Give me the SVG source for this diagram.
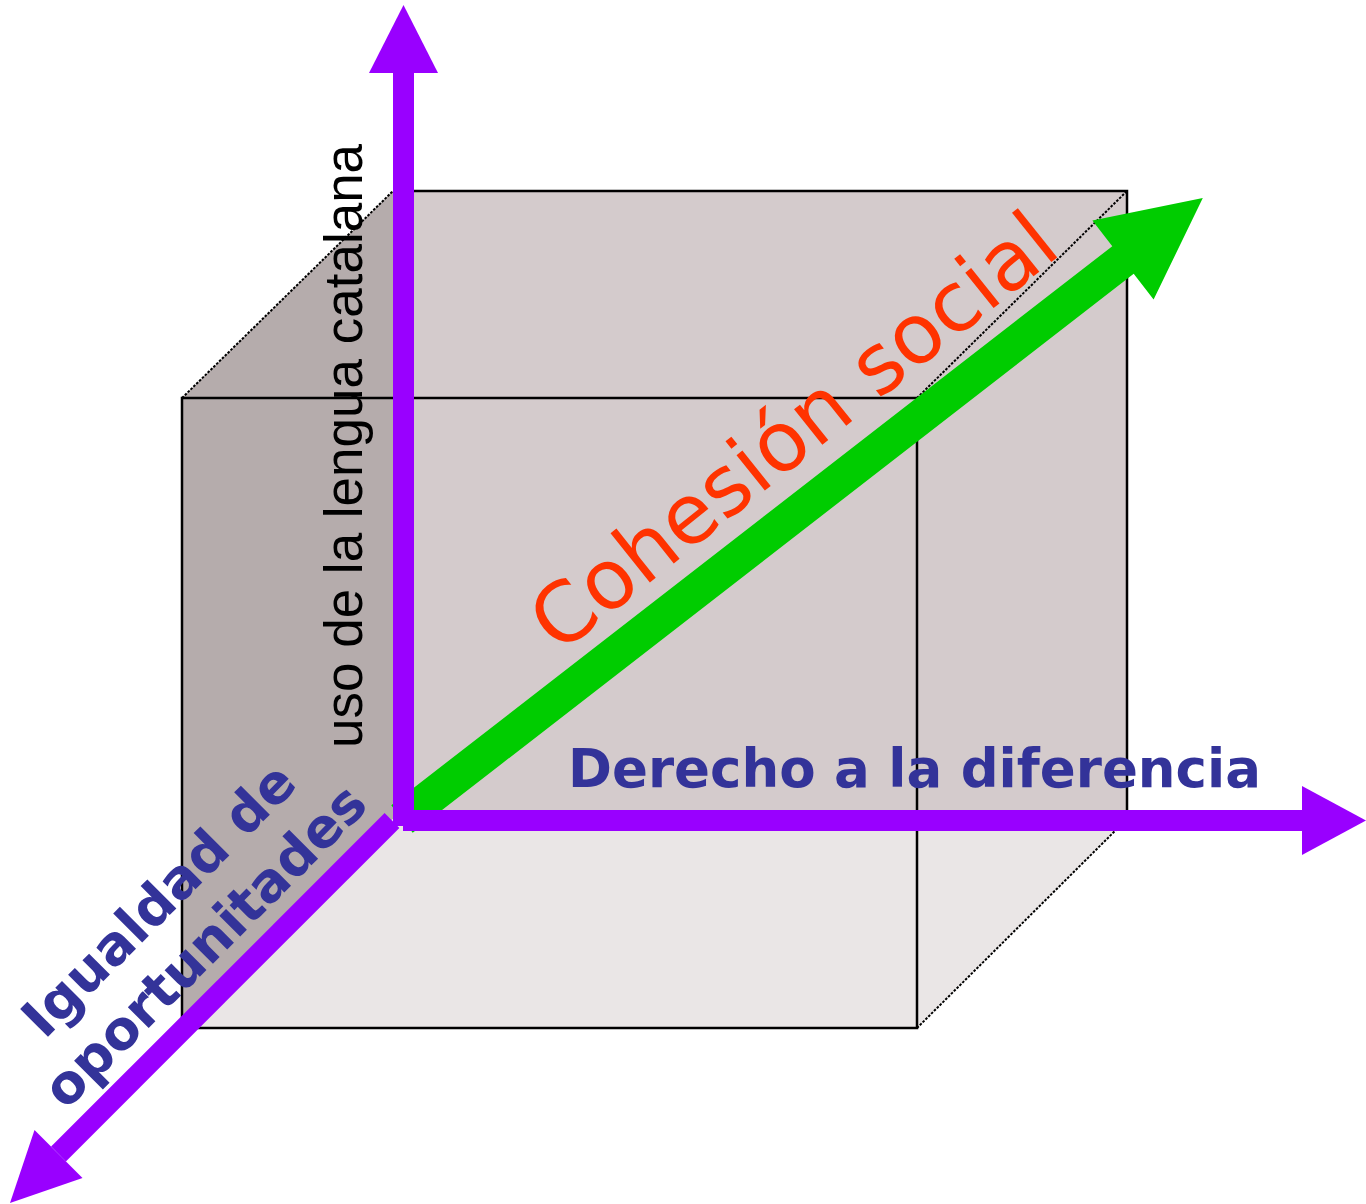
<svg xmlns="http://www.w3.org/2000/svg" width="1366" height="1204" viewBox="0 0 1366 1204">
<style>
.edge{fill:none;stroke:#000;stroke-width:2.5}
.dash{fill:none;stroke:#000;stroke-width:2;stroke-dasharray:2.5 1.5}
.axis{fill:#9900FF}
.lbl{font-family:"DejaVu Sans",Verdana,sans-serif;font-weight:bold;font-size:53px;fill:#333399}
</style>
<rect width="1366" height="1204" fill="#fff"/>
<g id="cube">
  <rect x="393" y="191" width="734" height="628" fill="#D4CBCC"/>
  <polygon points="182,398 393,191 393,819 182,1028" fill="#B5ACAC"/>
  <polygon points="182,1028 393,819 1127,819 917,1028" fill="#EAE6E6"/>
  <polyline class="edge" points="393,191 1127,191 1127,819"/>
  <rect class="edge" x="182" y="398" width="735" height="630"/>
  <line class="dash" x1="182" y1="398" x2="393" y2="191"/>
  <line class="dash" x1="917" y1="398" x2="1127" y2="191"/>
  <line class="dash" x1="917" y1="1028" x2="1127" y2="819"/>
</g>
<g id="label-uso">
  <text transform="translate(362,748) rotate(-90)" font-family="'Liberation Sans',Arial,sans-serif" font-size="53" fill="#000">uso de la lengua catalana</text>
</g>
<g id="label-cohesion">
  <text transform="translate(559,655) rotate(-38.6)" font-family="'DejaVu Sans',Verdana,sans-serif" font-size="83" fill="#FF3300">Cohesión social</text>
</g>
<g id="label-derecho">
  <text class="lbl" x="568" y="787">Derecho a la diferencia</text>
</g>
<g id="label-igualdad">
  <text class="lbl" transform="rotate(-45)" text-anchor="middle" style="font-size:54px"><tspan x="-524" y="767">Igualdad de</tspan><tspan x="-524" y="832">oportunitades</tspan></text>
</g>
<g id="connectors">
  <polygon id="arrow-cohesion" fill="#00CC00" points="391.3,805.2 1112.3,246.2 1092.4,220.5 1202.8,198.1 1153.6,299.5 1133.7,273.8 412.7,832.8"/>
  <g id="arrow-uso" class="axis">
    <rect x="393" y="70" width="21" height="756"/>
    <polygon points="369,73 403.5,5 438,73"/>
  </g>
  <g id="arrow-derecho" class="axis">
    <rect x="403" y="810" width="902" height="21"/>
    <polygon points="1302,786 1366,820.5 1302,855"/>
  </g>
  <g id="arrow-igualdad" class="axis">
    <polygon points="384.6,813.1 399.4,827.9 65.9,1161.4 51.1,1146.6"/>
    <polygon points="34.5,1130 10,1203 82.5,1178"/>
  </g>
</g>
</svg>
